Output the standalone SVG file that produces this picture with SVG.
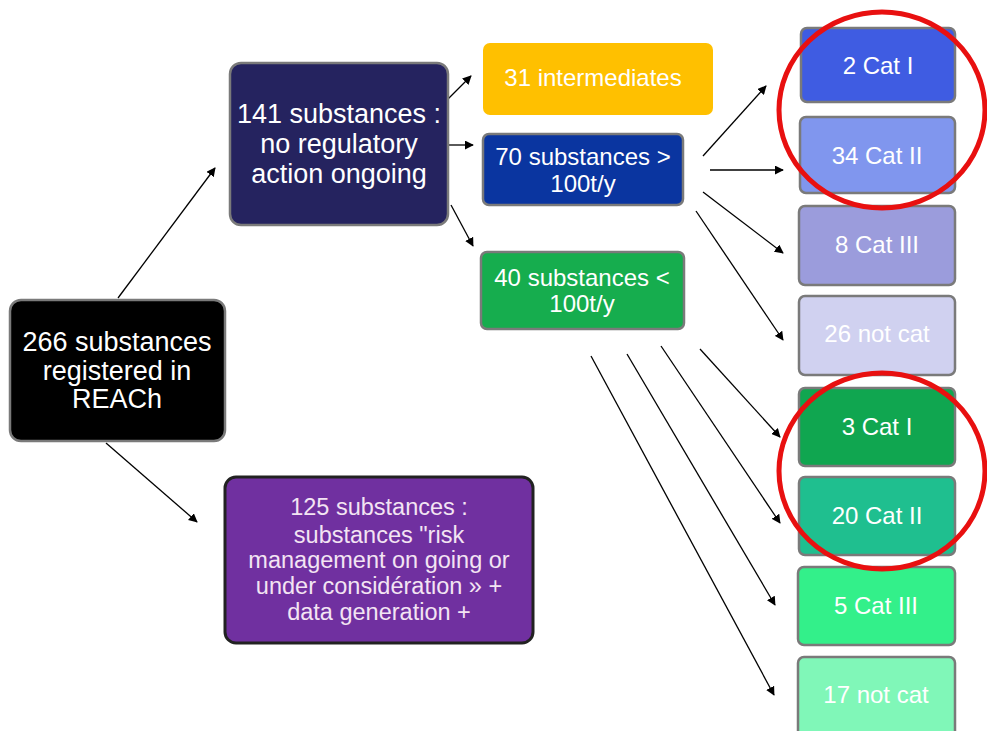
<svg xmlns="http://www.w3.org/2000/svg" width="987" height="731" viewBox="0 0 987 731">
<defs>
<marker id="ah" viewBox="0 0 10 10" refX="9" refY="5" markerWidth="9" markerHeight="9" markerUnits="userSpaceOnUse" orient="auto">
<path d="M0,0 L10,5 L0,10 z" fill="#000"/>
</marker>
</defs>
<style>
text{font-family:"Liberation Sans",Arial,sans-serif;fill:#fff;text-anchor:middle;dominant-baseline:central}
.bx{stroke:#7a7a7a;stroke-width:2.5}
.big{font-size:27px}
.mid{font-size:24px}
.sm{font-size:23.5px}
.cn line{stroke:#000;stroke-width:1.3;marker-end:url(#ah)}
.ring{fill:none;stroke:#e81010;stroke-width:5}
.pk{fill:#f3e4f3}
</style>
<rect width="987" height="731" fill="#fff"/>

<g class="cn">
<line x1="118" y1="298" x2="215" y2="168"/>
<line x1="106" y1="443" x2="197" y2="522"/>
<line x1="448" y1="99" x2="471" y2="76"/>
<line x1="449" y1="145" x2="473" y2="145"/>
<line x1="451" y1="205" x2="473" y2="246"/>
<line x1="703" y1="156" x2="766" y2="86"/>
<line x1="710" y1="170" x2="783" y2="170"/>
<line x1="703" y1="192" x2="783" y2="253"/>
<line x1="696" y1="211" x2="783" y2="340"/>
<line x1="700" y1="349" x2="780" y2="437"/>
<line x1="661" y1="346" x2="780" y2="523"/>
<line x1="627" y1="354" x2="775" y2="605"/>
<line x1="591" y1="356" x2="774" y2="695"/>
</g>

<g id="n266"><rect class="bx" x="10" y="300" width="215" height="141" rx="11" fill="#000"/>
<text class="big" x="117" y="342">266 substances</text><text class="big" x="117" y="371">registered in</text><text class="big" x="117" y="399">REACh</text></g>

<g id="n141"><rect class="bx" x="230" y="63" width="218" height="162" rx="11" fill="#25235f"/>
<text class="big" x="339" y="114">141 substances :</text><text class="big" x="339" y="144">no regulatory</text><text class="big" x="339" y="174">action ongoing</text></g>

<g id="n31"><rect x="483" y="43" width="230" height="72" rx="7" fill="#ffc000"/>
<text class="mid" x="593" y="77">31 intermediates</text></g>

<g id="n70"><rect class="bx" x="483" y="134" width="200" height="71" rx="6" fill="#0a35a0"/>
<text class="mid" x="583" y="156">70 substances &gt;</text><text class="mid" x="583" y="183">100t/y</text></g>

<g id="n40"><rect class="bx" x="481" y="252" width="203" height="77" rx="6" fill="#16ad4e"/>
<text class="mid" x="582" y="277">40 substances &lt;</text><text class="mid" x="582" y="303">100t/y</text></g>

<g id="n125"><rect x="225" y="477" width="308" height="166" rx="11" fill="#7030a0" stroke="#222" stroke-width="3"/>
<text class="sm pk" x="379" y="507">125 substances :</text>
<text class="sm pk" x="379" y="535">substances "risk</text>
<text class="sm pk" x="379" y="560">management on going or</text>
<text class="sm pk" x="379" y="586">under considération » +</text>
<text class="sm pk" x="379" y="612">data generation +</text></g>

<g id="c2"><rect class="bx" x="801" y="28" width="154" height="74" rx="6" fill="#3f5ce2"/><text class="mid" x="878" y="65">2 Cat I</text></g>
<g id="c34"><rect class="bx" x="800" y="117" width="155" height="76" rx="6" fill="#8096ee"/><text class="mid" x="877" y="155">34 Cat II</text></g>
<g id="c8"><rect class="bx" x="799" y="206" width="156" height="79" rx="6" fill="#9b9cdc"/><text class="mid" x="877" y="244">8 Cat III</text></g>
<g id="c26"><rect class="bx" x="799" y="296" width="156" height="79" rx="6" fill="#d0d1f0"/><text class="mid" x="877" y="333">26 not cat</text></g>
<g id="c3"><rect class="bx" x="799" y="388" width="156" height="78" rx="6" fill="#10a650"/><text class="mid" x="877" y="426">3 Cat I</text></g>
<g id="c20"><rect class="bx" x="799" y="477" width="156" height="78" rx="6" fill="#1fbf8f"/><text class="mid" x="877" y="515">20 Cat II</text></g>
<g id="c5"><rect class="bx" x="798" y="567" width="157" height="78" rx="6" fill="#33f08a"/><text class="mid" x="876" y="605">5 Cat III</text></g>
<g id="c17"><rect class="bx" x="798" y="657" width="157" height="80" rx="6" fill="#80f7b8"/><text class="mid" x="876" y="694">17 not cat</text></g>

<g id="rings">
<ellipse class="ring" cx="882" cy="110" rx="103" ry="98"/>
<ellipse class="ring" cx="882" cy="471" rx="103" ry="98"/>
</g>
</svg>
